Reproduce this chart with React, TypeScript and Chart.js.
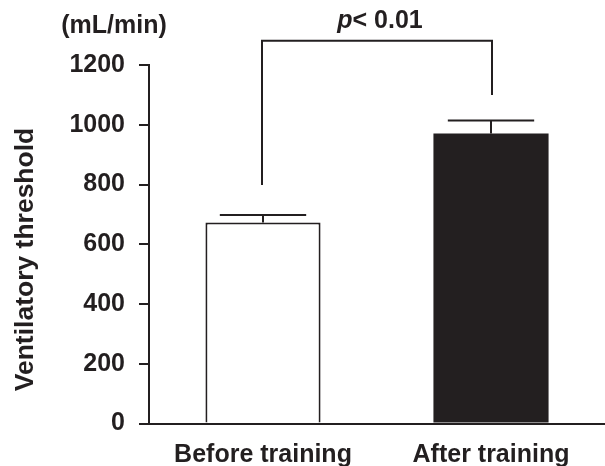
import { useEffect, useRef } from "react";
import { Chart, registerables } from "chart.js";

Chart.register(...registerables);

const categories = ["Before training", "After training"];
const means = [673, 971];
const errors = [25, 43];
const yTickValues = [0, 200, 400, 600, 800, 1000, 1200];
// bracket: left foot, top, right foot (in y units)
const bracketLevels = [798, 1281, 1100];
const pItalic = "p";
const pRest = "< 0.01";
const unitLabel = "(mL/min)";
const yTitle = "Ventilatory threshold";

const INK = "#231f20";
const FONT = "'Liberation Sans', Arial, sans-serif";

export default function App() {
  const ref = useRef<HTMLCanvasElement | null>(null);

  useEffect(() => {
    if (!ref.current) return;

    const annotate = {
      id: "annotate",
      afterDatasetsDraw(chart: any) {
        const ctx = chart.ctx as CanvasRenderingContext2D;
        const x = chart.scales.x;
        const y = chart.scales.y;
        const meta = chart.getDatasetMeta(0);
        ctx.save();
        ctx.strokeStyle = INK;
        ctx.fillStyle = INK;
        ctx.lineWidth = 2;
        ctx.lineCap = "butt";
        // error bars
        meta.data.forEach((bar: any, i: number) => {
          const cx = bar.x;
          const top = y.getPixelForValue(means[i] + errors[i]);
          const base = y.getPixelForValue(means[i]);
          const half = bar.width * 0.375;
          ctx.beginPath();
          ctx.moveTo(cx, base);
          ctx.lineTo(cx, top);
          ctx.moveTo(cx - half, top);
          ctx.lineTo(cx + half, top);
          ctx.stroke();
        });
        // bracket
        const x0 = x.getPixelForValue(0) - 1;
        const x1 = x.getPixelForValue(1) + 1;
        const yl = y.getPixelForValue(bracketLevels[0]);
        const yt = y.getPixelForValue(bracketLevels[1]);
        const yr = y.getPixelForValue(bracketLevels[2]);
        ctx.beginPath();
        ctx.moveTo(x0, yl);
        ctx.lineTo(x0, yt);
        ctx.lineTo(x1, yt);
        ctx.lineTo(x1, yr);
        ctx.stroke();
        // p label
        ctx.textBaseline = "alphabetic";
        ctx.textAlign = "left";
        ctx.font = `italic bold 25px ${FONT}`;
        const w1 = ctx.measureText(pItalic).width;
        ctx.font = `bold 25px ${FONT}`;
        const w2 = ctx.measureText(pRest).width;
        const cx = (x0 + x1) / 2 + 3;
        const sx = cx - (w1 + w2) / 2;
        ctx.font = `italic bold 25px ${FONT}`;
        ctx.fillText(pItalic, sx, yt - 13);
        ctx.font = `bold 25px ${FONT}`;
        ctx.fillText(pRest, sx + w1, yt - 13);
        // unit label
        ctx.textAlign = "center";
        ctx.fillText(unitLabel, 114, 33);
        // y title
        ctx.translate(33, 259.5);
        ctx.rotate(-Math.PI / 2);
        ctx.font = `bold 26.5px ${FONT}`;
        ctx.fillText(yTitle, 0, 0);
        ctx.restore();
      },
    };

    const chart = new Chart(ref.current, {
      type: "bar",
      data: {
        labels: categories,
        datasets: [
          {
            data: means,
            backgroundColor: ["#ffffff", INK],
            borderColor: INK,
            borderWidth: [2, 0],
            borderSkipped: "start",
            categoryPercentage: 1,
            barPercentage: 0.505,
          },
        ],
      },
      options: {
        animation: false,
        responsive: true,
        maintainAspectRatio: false,
        layout: { padding: { top: 65, left: 0, right: 0, bottom: 0 } },
        plugins: {
          legend: { display: false },
          tooltip: { enabled: false },
        },
        scales: {
          x: {
            grid: { display: false },
            border: { display: true, color: INK, width: 2 },
            ticks: {
              color: INK,
              font: { family: FONT, size: 25, weight: "bold" },
              padding: 9,
            },
            afterFit: (s: any) => {
              s.height = 42.5;
            },
          },
          y: {
            min: 0,
            max: 1200,
            afterBuildTicks: (s: any) => {
              s.ticks = yTickValues.map((v) => ({ value: v }));
            },
            grid: {
              drawOnChartArea: false,
              drawTicks: true,
              tickLength: 10,
              color: INK,
              lineWidth: 2,
            },
            border: { display: true, color: INK, width: 2 },
            ticks: {
              color: INK,
              font: { family: FONT, size: 25, weight: "bold" },
              padding: 14,
              callback: (v: any) => String(v),
            },
            afterFit: (s: any) => {
              s.width = 149;
            },
          },
        },
      },
      plugins: [annotate],
    });

    return () => chart.destroy();
  }, []);

  return (
    <div
      style={{
        position: "fixed",
        left: 0,
        top: 0,
        width: 605,
        height: 466,
        background: "#ffffff",
      }}
    >
      <canvas ref={ref} />
    </div>
  );
}
